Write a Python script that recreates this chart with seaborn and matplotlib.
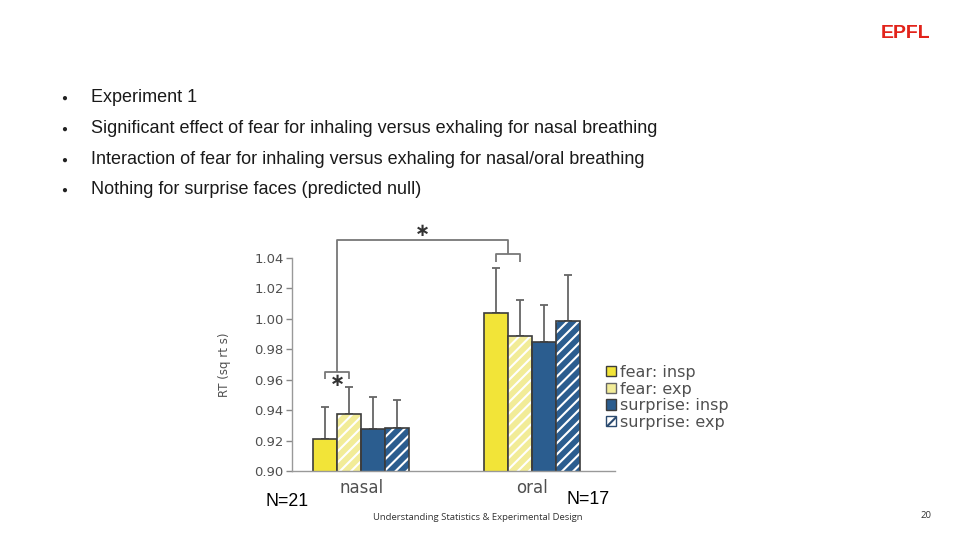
import matplotlib
matplotlib.use("Agg")
import matplotlib.pyplot as plt
from matplotlib.patches import Patch, Rectangle
import numpy as np
import pandas as pd
import seaborn as sns

# ---------------- data ----------------
routes = ["nasal", "oral"]
conditions = ["fear: insp", "fear: exp", "surprise: insp", "surprise: exp"]
mean_fear_insp = [0.921, 1.004]
mean_fear_exp = [0.9375, 0.989]
mean_surprise_insp = [0.928, 0.9845]
mean_surprise_exp = [0.9285, 0.9985]
err_fear_insp = [0.021, 0.029]
err_fear_exp = [0.018, 0.023]
err_surprise_insp = [0.0205, 0.0245]
err_surprise_exp = [0.018, 0.030]
n_labels = ["N=21", "N=17"]
bullets = [
    "Experiment 1",
    "Significant effect of fear for inhaling versus exhaling for nasal breathing",
    "Interaction of fear for inhaling versus exhaling for nasal/oral breathing",
    "Nothing for surprise faces (predicted null)",
]
y_ticks = [0.90, 0.92, 0.94, 0.96, 0.98, 1.00, 1.02, 1.04]

means = [mean_fear_insp, mean_fear_exp, mean_surprise_insp, mean_surprise_exp]
errs = [err_fear_insp, err_fear_exp, err_surprise_insp, err_surprise_exp]

df = pd.DataFrame({
    "route": [r for _ in conditions for r in routes],
    "condition": [c for c in conditions for _ in routes],
    "rt": [v for m in means for v in m],
})

# ---------------- style ----------------
sns.set_style("white")
plt.rcParams["font.family"] = ["DejaVu Sans"]
plt.rcParams["hatch.linewidth"] = 1.5

YELLOW = "#f2e438"
PALE = "#f2ec98"
BLUE = "#2b5d8f"
EDGE = "#3c3c3c"
GRAY = "#505050"
palette = [YELLOW, PALE, BLUE, BLUE]
hatched = [False, True, False, True]

fig = plt.figure(figsize=(9.6, 5.4), dpi=100)
fig.patch.set_facecolor("white")
ax = fig.add_axes([0.3042, 0.1269, 0.3365, 0.3959])

sns.barplot(data=df, x="route", y="rt", hue="condition", order=routes,
            hue_order=conditions, palette=palette, saturation=1,
            width=0.562, errorbar=None, edgecolor=EDGE, linewidth=1.2,
            legend=False, ax=ax)

bar_containers = list(ax.containers)
centers = []
for i, cont in enumerate(bar_containers):
    cs = []
    for j, bar in enumerate(cont.patches):
        x = bar.get_x() + bar.get_width() / 2
        cs.append(x)
        if hatched[i]:
            bar.set_edgecolor("white")
            bar.set_hatch("///")
            bar.set_linewidth(0)
            outline = Rectangle(bar.get_xy(), bar.get_width(), bar.get_height(),
                                fill=False, edgecolor=EDGE, linewidth=1.2,
                                zorder=bar.get_zorder() + 0.1)
            ax.add_patch(outline)
    centers.append(cs)

for i, cs in enumerate(centers):
    ax.errorbar(cs, means[i], yerr=[np.zeros(len(routes)), errs[i]], fmt="none",
                ecolor="#666666", elinewidth=1.3, capsize=3, capthick=1.3,
                zorder=0.5)

ax.set_ylim(0.90, 1.04)
ax.set_xlim(-0.405, 1.486)
ax.set_yticks(y_ticks)
ax.set_yticklabels([f"{t:.2f}" for t in y_ticks])
ax.tick_params(axis="y", left=True, length=4, width=1, color="#888888",
               labelsize=9.5, labelcolor=GRAY, pad=2)
ax.tick_params(axis="x", bottom=False, labelsize=12, labelcolor=GRAY, pad=2)
ax.set_xlabel("")
ax.set_ylabel("RT (sq rt s)", fontsize=8.5, color=GRAY)
ax.yaxis.set_label_coords(-0.19, 0.5)
for s in ["top", "right"]:
    ax.spines[s].set_visible(False)
for s in ["left", "bottom"]:
    ax.spines[s].set_color("#999999")
    ax.spines[s].set_linewidth(1.0)

# ---------------- significance brackets ----------------
BR_COL = "#777777"
nasal_low, nasal_top = 0.9606, 0.9654
oral_low, oral_top = 1.0374, 1.0424
big_top = 1.0516
nx0, nx1 = centers[0][0], centers[1][0]
ox0, ox1 = centers[0][1], centers[1][1]
nmid, omid = (nx0 + nx1) / 2, (ox0 + ox1) / 2
kw = dict(color=BR_COL, lw=1.3, clip_on=False, solid_capstyle="butt")
ax.plot([nx0, nx0, nx1, nx1], [nasal_low, nasal_top, nasal_top, nasal_low], **kw)
ax.plot([ox0, ox0, ox1, ox1], [oral_low, oral_top, oral_top, oral_low], **kw)
ax.plot([nmid, nmid, omid, omid], [nasal_top, big_top, big_top, oral_top], **kw)
ax.text(nmid, 0.9592, "\u2217", ha="center", va="center", fontsize=13,
        color="#333333", fontweight="bold", clip_on=False)
ax.text((nmid + omid) / 2, 1.0573, "\u2217", ha="center", va="center",
        fontsize=13, color="#333333", fontweight="bold", clip_on=False)

# ---------------- legend ----------------
handles = [
    Patch(facecolor=YELLOW, edgecolor=EDGE, linewidth=1.0),
    Patch(facecolor=PALE, edgecolor="#666666", linewidth=1.0),
    Patch(facecolor=BLUE, edgecolor=EDGE, linewidth=1.0),
    Patch(facecolor="white", edgecolor="#2b4a6f", hatch="///", linewidth=1.0),
]
leg = fig.legend(handles, conditions, loc="upper left",
                 bbox_to_anchor=(606 / 960, 1 - 365 / 540),
                 bbox_transform=fig.transFigure, frameon=False, fontsize=11.5,
                 handlelength=0.6, handleheight=0.6, handletextpad=0.3,
                 labelspacing=0.1, borderpad=0, borderaxespad=0)
for t in leg.get_texts():
    t.set_color(GRAY)

# ---------------- slide texts ----------------
SLIDE_FONT = ["Liberation Sans", "DejaVu Sans"]
for k, (txt, ypx) in enumerate(zip(bullets, [97.5, 128.5, 159.5, 189.5])):
    fig.text(64 / 960, 1 - (ypx + 0.5) / 540, "\u25cf", ha="center", va="center",
             fontsize=7, color="#222222", family=SLIDE_FONT)
    fig.text(91 / 960, 1 - ypx / 540, txt, ha="left", va="center",
             fontsize=13, color="#1a1a1a", family=SLIDE_FONT)

for lab, (xpx, ypx) in zip(n_labels, [(287, 501), (588, 500)]):
    fig.text(xpx / 960, 1 - ypx / 540, lab, ha="center", va="center",
             fontsize=12.8, color="black", family=SLIDE_FONT)

fig.text(906 / 960, 1 - 33 / 540, "EPFL", ha="center", va="center",
         fontsize=14, fontweight="bold", color="#e2231a", family=SLIDE_FONT)

fig.text(373 / 960, 1 - 517 / 540, "Understanding Statistics & Experimental Design",
         ha="left", va="center", fontsize=6.8, color="#333333",
         family=["Open Sans", "DejaVu Sans"])
fig.text(926 / 960, 1 - 516 / 540, "20", ha="center", va="center",
         fontsize=6.8, color="#333333", family=["Open Sans", "DejaVu Sans"])

fig.savefig("out.png", dpi=100)
